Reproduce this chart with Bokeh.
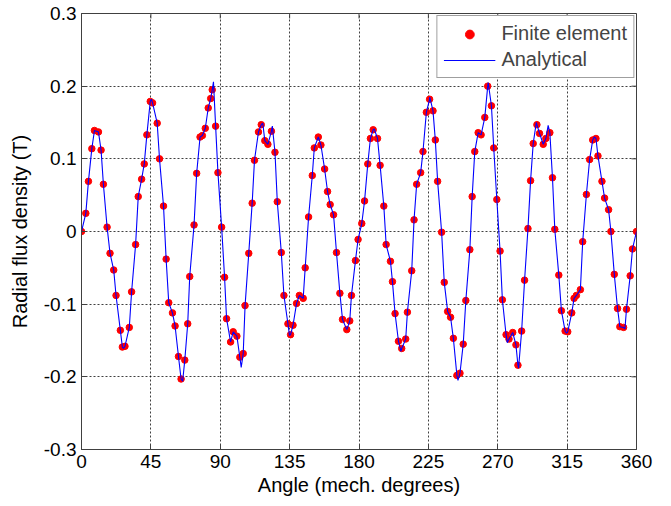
import math
from bokeh.plotting import figure
from bokeh.models import Range1d, FixedTicker, Legend, LegendItem
from bokeh.embed import file_html
from bokeh.resources import INLINE

# Finite element samples (angle in mech. degrees, radial flux density in T)
fe_angle = [
    0.0, 2.8, 4.5, 6.7, 8.4, 11.0, 12.7, 14.2, 16.6, 18.5, 20.9, 22.4, 25.2, 26.5, 28.2,
    31.0, 32.5, 35.1, 36.8, 39.0, 40.7, 42.4, 44.6, 46.1, 49.1, 50.6, 53.2, 54.9, 56.6,
    59.0, 60.7, 62.9, 64.6, 67.0, 68.9, 70.2, 73.0, 74.7, 76.9, 78.4, 80.3, 82.2, 83.8,
    84.8, 87.0, 88.5, 90.9, 92.8, 94.1, 96.7, 98.4, 100.8, 102.7, 104.9, 106.1, 108.5,
    110.7, 112.2, 114.8, 116.6, 118.9, 120.9, 123.2, 125.5, 127.0, 129.6, 131.3, 133.9,
    135.6, 137.2, 139.5, 141.3, 143.8, 145.1, 147.3, 149.7, 151.0, 153.6, 155.3, 157.7,
    159.6, 161.3, 163.5, 165.4, 167.6, 169.3, 172.1, 174.0, 175.1, 177.7, 179.4, 181.8,
    183.6, 185.7, 187.4, 189.2, 192.0, 193.7, 196.1, 197.6, 200.4, 201.7, 203.4, 205.6,
    207.7, 210.3, 211.4, 214.2, 215.7, 217.4, 220.0, 221.5, 223.7, 225.8, 228.0, 229.5,
    231.0, 233.6, 235.3, 237.5, 239.4, 241.2, 243.5, 245.5, 247.6, 249.3, 251.9, 253.4,
    255.1, 257.3, 259.2, 261.6, 263.5, 265.9, 267.4, 269.4, 271.5, 273.0, 275.4, 277.3,
    279.7, 281.8, 283.1, 285.5, 287.4, 289.6, 291.3, 293.0, 295.4, 297.1, 299.5, 301.2,
    303.8, 305.5, 307.0, 309.6, 311.3, 313.7, 315.4, 318.0, 319.5, 321.0, 323.6, 325.1,
    327.5, 329.6, 331.6, 333.7, 335.0, 337.6, 339.3, 341.9, 343.4, 345.6, 347.7, 349.2,
    351.6, 353.5, 355.9, 357.4, 360.0,
]
fe_flux = [
    0.000, 0.025, 0.069, 0.114, 0.139, 0.137, 0.112, 0.065, 0.006, -0.030, -0.053, -0.088,
    -0.136, -0.159, -0.158, -0.132, -0.083, -0.018, 0.048, 0.072, 0.093, 0.133, 0.179,
    0.177, 0.149, 0.100, 0.035, -0.038, -0.098, -0.112, -0.130, -0.172, -0.203, -0.177,
    -0.127, -0.062, 0.009, 0.080, 0.130, 0.132, 0.142, 0.170, 0.183, 0.195, 0.145, 0.081,
    0.006, -0.063, -0.120, -0.152, -0.138, -0.144, -0.173, -0.168, -0.102, -0.030, 0.039,
    0.098, 0.137, 0.147, 0.125, 0.120, 0.138, 0.109, 0.041, -0.029, -0.088, -0.127,
    -0.142, -0.129, -0.099, -0.088, -0.092, -0.050, 0.020, 0.077, 0.115, 0.130, 0.119,
    0.086, 0.055, 0.037, 0.023, -0.029, -0.085, -0.121, -0.135, -0.123, -0.088, -0.040,
    -0.011, 0.011, 0.042, 0.093, 0.128, 0.140, 0.128, 0.091, 0.035, -0.018, -0.041,
    -0.069, -0.113, -0.151, -0.161, -0.148, -0.111, -0.054, 0.016, 0.065, 0.081, 0.110,
    0.164, 0.182, 0.166, 0.126, 0.069, -0.001, -0.070, -0.110, -0.118, -0.147, -0.198,
    -0.195, -0.155, -0.095, -0.025, 0.048, 0.110, 0.136, 0.133, 0.157, 0.200, 0.173,
    0.115, 0.044, -0.027, -0.094, -0.142, -0.148, -0.139, -0.156, -0.184, -0.137, -0.067,
    0.004, 0.070, 0.121, 0.147, 0.135, 0.120, 0.128, 0.136, 0.074, 0.003, -0.060, -0.109,
    -0.137, -0.138, -0.112, -0.092, -0.088, -0.080, -0.014, 0.051, 0.099, 0.126, 0.128,
    0.104, 0.069, 0.046, 0.030, 0.000, -0.059, -0.106, -0.131, -0.132, -0.107, -0.061,
    -0.024, 0.000,
]

# Extra extremes of the analytical curve (where it overshoots the FE samples)
ana_extra_angle = [27.3, 45.3, 65.6, 85.6, 103.6, 117.6, 123.8, 134.9, 189.9, 207.2,
                   225.9, 244.2, 263.8, 276.2, 283.5, 295.0, 302.7, 314.6, 332.6, 352.5]
ana_extra_flux = [-0.161, 0.182, -0.206, 0.206, -0.187, 0.149, 0.145, -0.143, 0.141, -0.165,
                  0.185, -0.205, 0.205, -0.153, -0.188, 0.150, 0.146, -0.140, 0.130, -0.134]

x_ticks = [0, 45, 90, 135, 180, 225, 270, 315, 360]
y_ticks = [-0.3, -0.2, -0.1, 0.0, 0.1, 0.2, 0.3]
y_tick_labels = ["-0.3", "-0.2", "-0.1", "0", "0.1", "0.2", "0.3"]

pairs = sorted(zip(fe_angle + ana_extra_angle, fe_flux + ana_extra_flux))
ana_angle = [a for a, _ in pairs]
ana_flux = [b for _, b in pairs]

FONT = "Liberation Sans"
TICK_FS = "19px"
LABEL_FS = "20px"
FRAME = "#404040"

x_min, x_max = x_ticks[0], x_ticks[-1]
y_min, y_max = y_ticks[0], y_ticks[-1]

p = figure(width=668, height=504, x_range=Range1d(x_min, x_max), y_range=Range1d(y_min, y_max),
           output_backend="svg", toolbar_location=None,
           min_border_left=81, min_border_right=32, min_border_top=13, min_border_bottom=55)
p.background_fill_color = "white"
p.border_fill_color = "white"
p.outline_line_color = FRAME
p.outline_line_width = 1

for ax in (p.xaxis[0], p.yaxis[0]):
    ax.major_tick_in = 5
    ax.major_tick_out = 0
    ax.minor_tick_in = 0
    ax.minor_tick_out = 0
    ax.axis_line_color = FRAME
    ax.major_tick_line_color = FRAME
    ax.major_label_text_font = FONT
    ax.major_label_text_font_size = TICK_FS
    ax.major_label_text_color = "black"
    ax.axis_label_text_font = FONT
    ax.axis_label_text_font_size = LABEL_FS
    ax.axis_label_text_font_style = "normal"
    ax.axis_label_text_color = "black"

p.xaxis.ticker = FixedTicker(ticks=x_ticks)
p.yaxis.ticker = FixedTicker(ticks=y_ticks)
p.yaxis.major_label_overrides = {t: s for t, s in zip(y_ticks, y_tick_labels)}
p.xaxis.axis_label = "Angle (mech. degrees)"
p.yaxis.axis_label = "Radial flux density (T)"
p.xaxis.major_label_standoff = 5
p.xaxis.axis_label_standoff = 3
p.yaxis.major_label_standoff = 5
p.yaxis.axis_label_standoff = 10

# inward tick marks on the top and right edges of the box
p.ray(x=x_ticks, y=[y_max] * len(x_ticks), length=5, length_units="screen",
      angle=-math.pi / 2, line_color=FRAME, line_width=1)
p.ray(x=[x_max] * len(y_ticks), y=y_ticks, length=5, length_units="screen",
      angle=math.pi, line_color=FRAME, line_width=1)

for g in (p.xgrid[0], p.ygrid[0]):
    g.grid_line_color = "black"
    g.grid_line_alpha = 0.75
    g.grid_line_dash = "2 2"
    g.grid_line_width = 1

fe = p.scatter(fe_angle, fe_flux, size=6.5, color="red", line_color="red")
an = p.line(ana_angle, ana_flux, line_color="blue", line_width=1.1)

legend = Legend(items=[LegendItem(label="Finite element", renderers=[fe]),
                       LegendItem(label="Analytical", renderers=[an])],
                location="top_right", margin=2, padding=6, spacing=3,
                glyph_width=52, glyph_height=22, label_standoff=6, label_height=22,
                label_text_font=FONT, label_text_font_size=LABEL_FS,
                border_line_color=FRAME, border_line_width=1,
                background_fill_color="white", background_fill_alpha=1.0)
p.add_layout(legend, "center")

open("out.html", "w").write(file_html(p, INLINE))
